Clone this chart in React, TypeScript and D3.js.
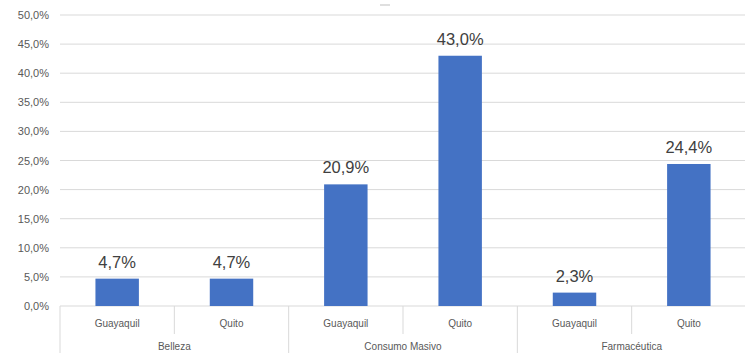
import React from "react";
import * as d3 from "d3";

const groups = ["Belleza", "Consumo Masivo", "Farmacéutica"];
const cities = ["Guayaquil", "Quito"];
const values = [4.7, 4.7, 20.9, 43.0, 2.3, 24.4];
const valueLabels = ["4,7%", "4,7%", "20,9%", "43,0%", "2,3%", "24,4%"];
const yTicks = [0, 5, 10, 15, 20, 25, 30, 35, 40, 45, 50];

const W = 745;
const H = 353;
const left = 60;
const right = 746;
const top = 15;
const bottom = 306;

export default function App() {
  const items = groups.flatMap((g, gi) =>
    cities.map((c, ci) => ({ key: `${gi}-${ci}`, group: g, city: c, idx: gi * 2 + ci }))
  );
  const x = d3
    .scaleBand<string>()
    .domain(items.map((d) => d.key))
    .range([left, right])
    .paddingInner(0)
    .paddingOuter(0);
  const y = d3.scaleLinear().domain([0, 50]).range([bottom, top]);
  const bw = x.bandwidth();
  const barW = bw * 0.38;
  const fmt = (v: number) => v.toFixed(1).replace(".", ",") + "%";
  const font = "'Liberation Sans', Arial, sans-serif";

  return (
    <svg
      width={W}
      height={H}
      style={{ position: "absolute", left: 0, top: 0, background: "#fff" }}
      fontFamily={font}
    >
      {yTicks.map((t) => (
        <g key={t}>
          <line x1={left} x2={right} y1={y(t)} y2={y(t)} stroke="#d9d9d9" strokeWidth={1} />
          <text x={49} y={y(t) + 4} fontSize={11} fill="#595959" textAnchor="end">
            {fmt(t)}
          </text>
        </g>
      ))}
      {items.map((d) => {
        const cx = (x(d.key) as number) + bw / 2;
        const v = values[d.idx];
        return (
          <g key={d.key}>
            <rect x={cx - barW / 2} y={y(v)} width={barW} height={bottom - y(v)} fill="#4472c4" />
            <text x={cx} y={y(v) - 11} fontSize={16.5} fill="#404040" textAnchor="middle">
              {valueLabels[d.idx]}
            </text>
            <text x={cx} y={327} fontSize={10} fill="#595959" textAnchor="middle">
              {d.city}
            </text>
          </g>
        );
      })}
      {items.map((d, i) => {
        const x0 = x(d.key) as number;
        const isGroupStart = i % 2 === 0;
        return (
          <line
            key={"sep" + d.key}
            x1={x0}
            x2={x0}
            y1={bottom}
            y2={isGroupStart ? H : 334}
            stroke="#d9d9d9"
            strokeWidth={1}
          />
        );
      })}
      {groups.map((g, gi) => {
        const x0 = x(`${gi}-0`) as number;
        const cx = x0 + bw;
        return (
          <text key={g} x={cx} y={350} fontSize={10} fill="#595959" textAnchor="middle">
            {g}
          </text>
        );
      })}
      <line x1={380} x2={390} y1={5} y2={5} stroke="#bfbfbf" strokeWidth={1} />
    </svg>
  );
}
